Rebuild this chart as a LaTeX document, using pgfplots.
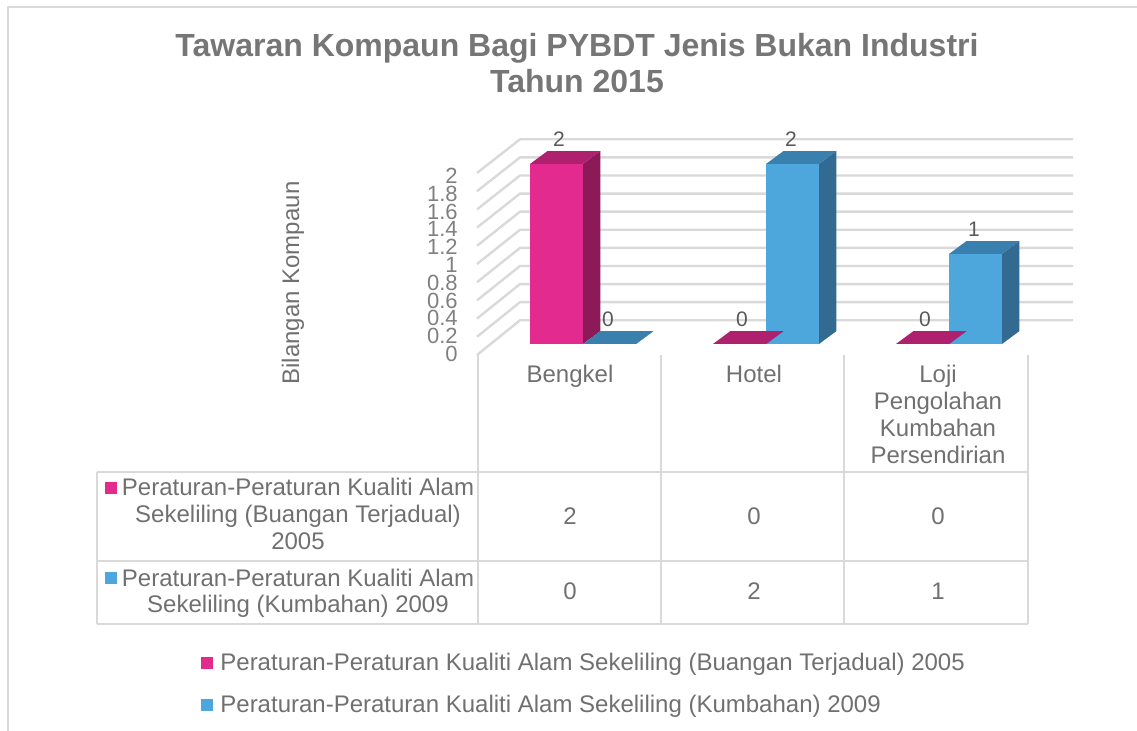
\documentclass[border=0pt]{standalone}
\usepackage{fontspec}
\setmainfont{Liberation Sans}
\usepackage{pgfplots}
\usepackage{pgfplotstable}
\pgfplotsset{compat=1.18}

\definecolor{pinkF}{RGB}{227,43,143}
\definecolor{pinkT}{RGB}{175,32,110}
\definecolor{pinkS}{RGB}{139,26,87}
\definecolor{blueF}{RGB}{77,166,220}
\definecolor{blueT}{RGB}{58,128,174}
\definecolor{blueS}{RGB}{50,106,145}
\definecolor{gridc}{RGB}{217,217,217}
\definecolor{txt}{RGB}{112,112,112}
\definecolor{ticktxt}{RGB}{128,128,128}
\definecolor{titletxt}{RGB}{118,118,118}
\definecolor{lbltxt}{RGB}{89,89,89}

\pgfplotstableread{
x v
0 2
1 0
2 0
}\pinkdata
\pgfplotstableread{
x v
0 0
1 2
2 1
}\bluedata

% top and side faces of the 3-D bars (drawn at the top-front corner of each bar)
\pgfdeclareplotmark{pinkbox}{%
  \pgfpathmoveto{\pgfpoint{-26.5pt}{0pt}}%
  \pgfpathlineto{\pgfpoint{0pt}{0pt}}%
  \pgfpathlineto{\pgfpoint{8.65pt}{6.4pt}}%
  \pgfpathlineto{\pgfpoint{-17.85pt}{6.4pt}}%
  \pgfpathclose
  \pgfsetfillcolor{pinkT}\pgfusepath{fill}%
  \pgfpathmoveto{\pgfpoint{0pt}{0pt}}%
  \pgfpathlineto{\pgfpoint{8.65pt}{6.4pt}}%
  \pgfpathlineto{\pgfpoint{8.65pt}{6.4pt-\hh pt}}%
  \pgfpathlineto{\pgfpoint{0pt}{-\hh pt}}%
  \pgfpathclose
  \pgfsetfillcolor{pinkS}\pgfusepath{fill}%
}
\pgfdeclareplotmark{bluebox}{%
  \pgfpathmoveto{\pgfpoint{0pt}{0pt}}%
  \pgfpathlineto{\pgfpoint{26.5pt}{0pt}}%
  \pgfpathlineto{\pgfpoint{35.15pt}{6.4pt}}%
  \pgfpathlineto{\pgfpoint{8.65pt}{6.4pt}}%
  \pgfpathclose
  \pgfsetfillcolor{blueT}\pgfusepath{fill}%
  \pgfpathmoveto{\pgfpoint{26.5pt}{0pt}}%
  \pgfpathlineto{\pgfpoint{35.15pt}{6.4pt}}%
  \pgfpathlineto{\pgfpoint{35.15pt}{6.4pt-\hh pt}}%
  \pgfpathlineto{\pgfpoint{26.5pt}{-\hh pt}}%
  \pgfpathclose
  \pgfsetfillcolor{blueS}\pgfusepath{fill}%
}

\begin{document}
\begin{tikzpicture}
\begin{scope}[x=0.5pt,y=-0.5pt]
\useasboundingbox (0,0) rectangle (1137,731);
% outer frame
\draw[gridc,line width=1pt] (8,731) -- (8,7) -- (1137,7);
% title
\node[anchor=base,text=titletxt,font=\fontsize{16pt}{18pt}\selectfont\bfseries,inner sep=0] at (577,57) {Tawaran Kompaun Bagi PYBDT Jenis Bukan Industri};
\node[anchor=base,text=titletxt,font=\fontsize{16pt}{18pt}\selectfont\bfseries,inner sep=0] at (577,93) {Tahun 2015};
% gridlines (left wall and back wall)
\foreach \v in {0,0.2,...,2.01} {
  \draw[gridc,line width=1.2pt] (477,{355-91*\v}) -- (520,{320.3-90.5*\v}) -- (1073,{320.3-90.5*\v});
}
% y tick labels
\foreach \v/\lab in {0/0,0.2/0.2,0.4/0.4,0.6/0.6,0.8/0.8,1/1,1.2/1.2,1.4/1.4,1.6/1.6,1.8/1.8,2/2} {
  \node[anchor=east,text=ticktxt,font=\fontsize{11pt}{12pt}\selectfont,inner sep=0] at (458,{354-89*\v}) {\lab};
}
% y axis title
\node[rotate=90,text=txt,font=\fontsize{12pt}{14pt}\selectfont,inner sep=0] at (293,283) {Bilangan Kompaun};
% data table lines
\draw[gridc,line width=1pt] (478,355) -- (478,624);
\draw[gridc,line width=1pt] (661,355) -- (661,624);
\draw[gridc,line width=1pt] (844,355) -- (844,624);
\draw[gridc,line width=1pt] (1028,355) -- (1028,624);
\draw[gridc,line width=1pt] (97,472) -- (1028,472);
\draw[gridc,line width=1pt] (97,561) -- (1028,561);
\draw[gridc,line width=1pt] (97,624) -- (1028,624);
\draw[gridc,line width=1pt] (97,472) -- (97,624);
% category labels
\begin{scope}[every node/.style={anchor=base,text=txt,font=\fontsize{12pt}{14pt}\selectfont,inner sep=0}]
\node at (570,383) {Bengkel};
\node at (754,383) {Hotel};
\node at (938,383) {Loji};
\node at (938,410) {Pengolahan};
\node at (938,437) {Kumbahan};
\node at (938,464) {Persendirian};
% row labels
\node at (298,496) {Peraturan-Peraturan Kualiti Alam};
\node at (298,523) {Sekeliling (Buangan Terjadual)};
\node at (298,550) {2005};
\node at (298,587) {Peraturan-Peraturan Kualiti Alam};
\node at (298,613) {Sekeliling (Kumbahan) 2009};
% values
\node at (570,525) {2};
\node at (754,525) {0};
\node at (938,525) {0};
\node at (570,600) {0};
\node at (754,600) {2};
\node at (938,600) {1};
% legend
\node[anchor=base west] at (220,671) {Peraturan-Peraturan Kualiti Alam Sekeliling (Buangan Terjadual) 2005};
\node[anchor=base west] at (220,713) {Peraturan-Peraturan Kualiti Alam Sekeliling (Kumbahan) 2009};
\end{scope}
\fill[pinkF] (105,482) rectangle (117,494);
\fill[blueF] (105,572) rectangle (117,584);
\fill[pinkF] (201,657) rectangle (213,669);
\fill[blueF] (201,699) rectangle (213,711);
\end{scope}

\begin{axis}[
  scale only axis,
  x=91.5pt, y=45pt,
  xmin=0, xmax=2, ymin=0, ymax=2,
  anchor=south west, at={(291.5pt,-172pt)},
  hide axis, clip=false,
]
\addplot[ybar, bar width=26.5pt, bar shift=-13.25pt, fill=pinkF, draw=none,
  nodes near coords={\pgfmathprintnumber[assume math mode=true]{\pgfplotspointmeta}},
  every node near coord/.style={anchor=center,xshift=-12pt,yshift=12.5pt,text=lbltxt,font=\fontsize{10.5pt}{12pt}\selectfont}]
  table[x=x,y=v]{\pinkdata};
\addplot[only marks, mark=pinkbox, visualization depends on={45*\thisrow{v}\as\hh}]
  table[x=x,y=v]{\pinkdata};
\addplot[ybar, bar width=26.5pt, bar shift=13.25pt, fill=blueF, draw=none,
  nodes near coords={\pgfmathprintnumber[assume math mode=true]{\pgfplotspointmeta}},
  every node near coord/.style={anchor=center,xshift=12.5pt,yshift=12.5pt,text=lbltxt,font=\fontsize{10.5pt}{12pt}\selectfont}]
  table[x=x,y=v]{\bluedata};
\addplot[only marks, mark=bluebox, visualization depends on={45*\thisrow{v}\as\hh}]
  table[x=x,y=v]{\bluedata};
\end{axis}
\end{tikzpicture}
\end{document}
